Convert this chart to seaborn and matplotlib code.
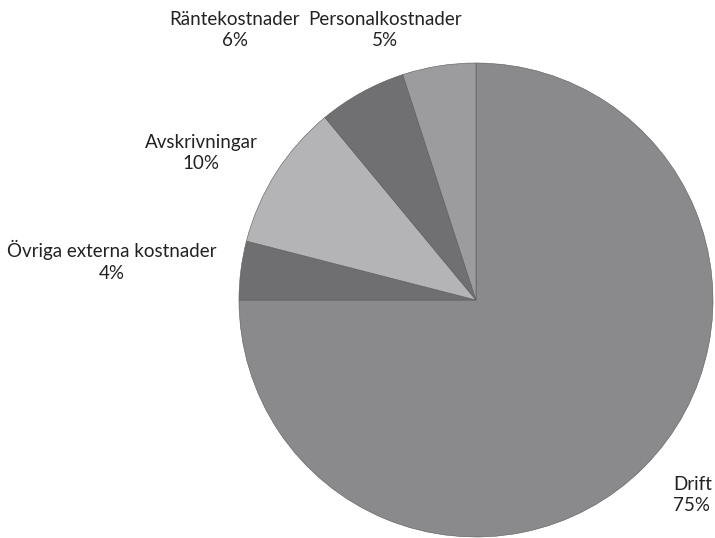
import matplotlib
matplotlib.use("Agg")
import matplotlib.pyplot as plt
import seaborn as sns

categories = ["Drift", "Övriga externa kostnader", "Avskrivningar", "Räntekostnader", "Personalkostnader"]
shares = [75, 4, 10, 6, 5]
slice_colors = ["#8a8a8c", "#6f6f71", "#b4b4b6", "#707072", "#9c9c9e"]

# label anchors in pixel space of the 715x538 picture (layout only)
label_pos = {
    "Drift": (673, 495, "left"),
    "Övriga externa kostnader": (112, 261, "center"),
    "Avskrivningar": (201, 153, "center"),
    "Räntekostnader": (235, 30, "center"),
    "Personalkostnader": (385, 30, "center"),
}

sns.set_theme(style="white")
plt.rcParams['font.family'] = ['Lato', 'DejaVu Sans']

W, H = 715, 538
cx, cy, r = 476, 300, 237

fig = plt.figure(figsize=(W / 100, H / 100), dpi=100)
ax = fig.add_axes([0, 0, 1, 1])
ax.pie(shares, colors=slice_colors, startangle=90, counterclock=False,
       wedgeprops=dict(edgecolor="#5a5a5a", linewidth=0.4))
ax.set_xlim((0 - cx) / r, (W - cx) / r)
ax.set_ylim((cy - H) / r, cy / r)
ax.set_aspect("auto")
ax.axis("off")

for name, val in zip(categories, shares):
    px, py, align = label_pos[name]
    ax.text((px - cx) / r, (cy - py) / r, f"{name}\n{val}%", ha=align, va="center",
            multialignment=align, fontsize=13.5, color="#222222", linespacing=1.3)

fig.savefig("out.png", dpi=100, facecolor="white")
